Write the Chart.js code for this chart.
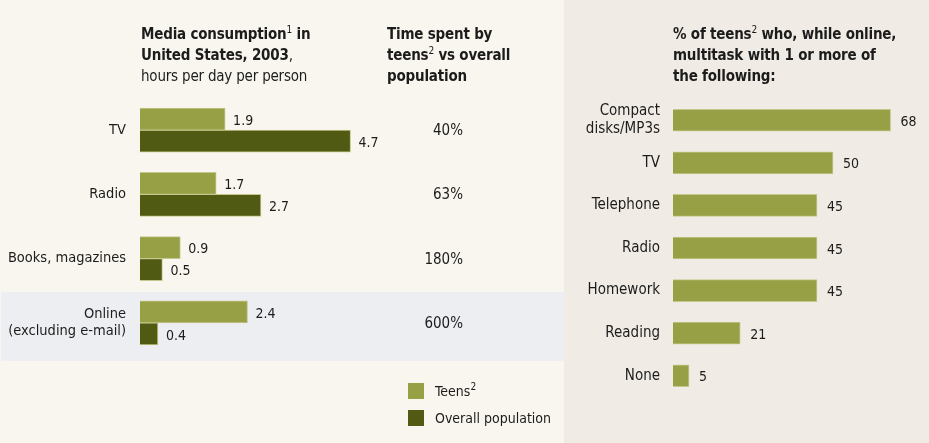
<!DOCTYPE html>
<html>
<head>
<meta charset="utf-8">
<script src="https://cdn.jsdelivr.net/npm/chart.js"></script>
<style>
  body { margin: 0; width: 929px; height: 443px; position: relative; overflow: hidden;
         background: #f8f6ee; color: #1c1c1c;
         font-family: 'Liberation Sans Narrow', 'DejaVu Sans Condensed', 'Roboto', sans-serif; }
  #leftBox { position: absolute; left: 0; top: 0; width: 564px; height: 443px; }
  #rightBox { position: absolute; left: 564px; top: 0; width: 365px; height: 443px; background: #f0ece5; }
  .title { position: absolute; font-size: 15px; line-height: 21px; font-weight: bold; white-space: nowrap; letter-spacing: -0.2px; }
  .title .sub { font-weight: normal; }
  sup { font-size: 10px; font-weight: normal; vertical-align: 6px; line-height: 0; }
  .legend { position: absolute; left: 408px; font-size: 14px; line-height: 16px; white-space: nowrap; }
  .legend span.sw { display: inline-block; width: 16px; height: 16px; vertical-align: top; margin-right: 11px; }
</style>
</head>
<body>
<div id="leftBox"><canvas id="mediaChart"></canvas></div>
<div id="rightBox"><canvas id="multiChart"></canvas></div>

<div class="title" style="left:141px; top:24px;">Media consumption<sup>1</sup> in<br>United States, 2003<span class="sub">,</span><br><span class="sub">hours per day per person</span></div>
<div class="title" style="left:387px; top:24px;">Time spent by<br>teens<sup>2</sup> vs overall<br>population</div>
<div class="title" style="left:673px; top:24px;">% of teens<sup>2</sup> who, while online,<br>multitask with 1 or more of<br>the following:</div>

<div class="legend" style="top:383px;"><span class="sw" style="background:#98a045"></span>Teens<sup>2</sup></div>
<div class="legend" style="top:410px;"><span class="sw" style="background:#515a13"></span>Overall population</div>

<script>
const mediaCats = ['TV', 'Radio', 'Books, magazines', ['Online', '(excluding e-mail)']];
const teensHours = [1.9, 1.7, 0.9, 2.4];
const overallHours = [4.7, 2.7, 0.5, 0.4];
const teenShare = ['40%', '63%', '180%', '600%'];

const multitaskCats = [['Compact', 'disks/MP3s'], 'TV', 'Telephone', 'Radio', 'Homework', 'Reading', 'None'];
const multitaskPct = [68, 50, 45, 45, 45, 21, 5];

const FONT = "'Liberation Sans Narrow', 'DejaVu Sans Condensed', 'Roboto', sans-serif";
const TEENS = '#98a045';
const OVERALL = '#515a13';

// value written just right of every bar
const valueLabels = {
  id: 'valueLabels',
  afterDatasetsDraw(chart) {
    const ctx = chart.ctx;
    ctx.save();
    ctx.font = '14px ' + FONT;
    ctx.fillStyle = '#1c1c1c';
    ctx.textBaseline = 'middle';
    ctx.textAlign = 'left';
    chart.data.datasets.forEach((ds, i) => {
      chart.getDatasetMeta(i).data.forEach((bar, j) => {
        ctx.fillText(String(ds.data[j]), bar.x + chart.options.labelGap, bar.y + 2);
      });
    });
    ctx.restore();
  }
};

// highlight band behind "Online" and the ratio column
const mediaExtras = {
  id: 'mediaExtras',
  beforeDraw(chart) {
    const y = chart.scales.y;
    const c = y.getPixelForValue(3);
    const ctx = chart.ctx;
    ctx.save();
    ctx.fillStyle = '#edeef2';
    ctx.fillRect(1, c - 31, chart.width - 1, 69);
    ctx.restore();
  },
  afterDraw(chart) {
    const y = chart.scales.y;
    const ctx = chart.ctx;
    ctx.save();
    ctx.font = '15px ' + FONT;
    ctx.fillStyle = '#1c1c1c';
    ctx.textAlign = 'right';
    ctx.textBaseline = 'middle';
    teenShare.forEach((t, i) => ctx.fillText(t, 463, y.getPixelForValue(i) + 1));
    ctx.restore();
  }
};

Chart.defaults.font.family = FONT;
Chart.defaults.color = '#1c1c1c';

new Chart(document.getElementById('mediaChart'), {
  type: 'bar',
  data: {
    labels: mediaCats,
    datasets: [
      { label: 'Teens', data: teensHours, backgroundColor: TEENS, borderColor: '#c4c88c', borderWidth: 1, barThickness: 22 },
      { label: 'Overall population', data: overallHours, backgroundColor: OVERALL, borderColor: '#c4c88c', borderWidth: 1, barThickness: 22 }
    ]
  },
  options: {
    indexAxis: 'y',
    responsive: true,
    maintainAspectRatio: false,
    animation: false,
    labelGap: 8,
    layout: { padding: { top: 98, bottom: 88, right: 200, left: 0 } },
    plugins: { legend: { display: false }, tooltip: { enabled: false } },
    scales: {
      x: { display: false, min: 0, max: 5 },
      y: {
        grid: { display: false, drawTicks: false },
        border: { display: false },
        ticks: { padding: 14, font: { size: 14.5 }, color: '#1c1c1c' },
        afterFit(scale) { scale.width = 140; }
      }
    }
  },
  plugins: [mediaExtras, valueLabels]
});

new Chart(document.getElementById('multiChart'), {
  type: 'bar',
  data: {
    labels: multitaskCats,
    datasets: [
      { label: '% of teens', data: multitaskPct, backgroundColor: TEENS, borderColor: '#c4c88c', borderWidth: 1, barThickness: 22 }
    ]
  },
  options: {
    indexAxis: 'y',
    responsive: true,
    maintainAspectRatio: false,
    animation: false,
    labelGap: 10,
    layout: { padding: { top: 99, bottom: 46, right: 0, left: 0 } },
    plugins: { legend: { display: false }, tooltip: { enabled: false } },
    scales: {
      x: { display: false, min: 0, max: 80 },
      y: {
        grid: { display: false, drawTicks: false },
        border: { display: false },
        ticks: { padding: 13, font: { size: 15 }, color: '#1c1c1c' },
        afterFit(scale) { scale.width = 109; }
      }
    }
  },
  plugins: [valueLabels]
});
</script>
</body>
</html>
